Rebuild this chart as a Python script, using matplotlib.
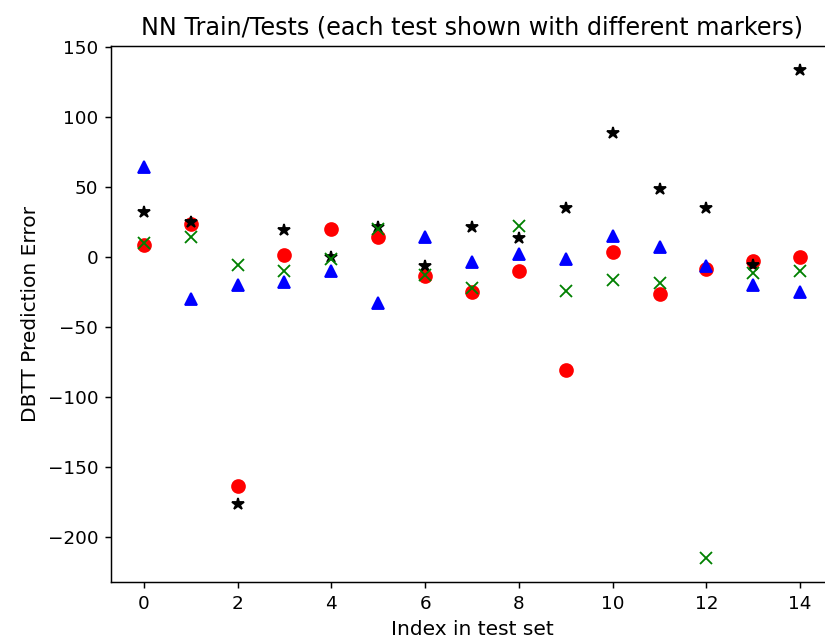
import numpy as np
import matplotlib
matplotlib.use("Agg")
import matplotlib.pyplot as plt

# prediction errors for each test
idx = np.arange(15)
test_red = [8, 23, -164, 1, 20, 14, -14, -25, -10, -81, 3, -27, -9, -3.5, 0]
test_blue = [64, -30, -20, -18, -10.5, -33, 14, -4, 2, -1.5, 15, 7, -7, -20, -25]
test_green = [10, 14, -6, -10, -1.5, 20, -13, -22.5, 21.5, -24.5, -16.5, -19, -215, -12, -10]
test_black = [31.5, 25, -177, 19, -0.5, 21, -7, 21, 13, 34.5, 88, 48, 34.5, -6, 133]

fig = plt.figure(figsize=(825 / 132, 642 / 132), dpi=132)
# axes runs a little past the right edge, as in the cropped original
ax = fig.add_axes([111 / 825, 60 / 642, 722 / 825, 536 / 642])

ax.plot(idx, test_red, 'ro', ms=7)
ax.plot(idx, test_blue, 'b^', ms=7)
ax.plot(idx, test_black, 'k*', ms=7)
ax.plot(idx, test_green, 'gx', ms=7)

ax.set_title('NN Train/Tests (each test shown with different markers)', fontsize=13)
ax.set_xlabel('Index in test set', fontsize=11)
ax.set_ylabel('DBTT Prediction Error', fontsize=11)

fig.savefig('out.png', dpi=132)
